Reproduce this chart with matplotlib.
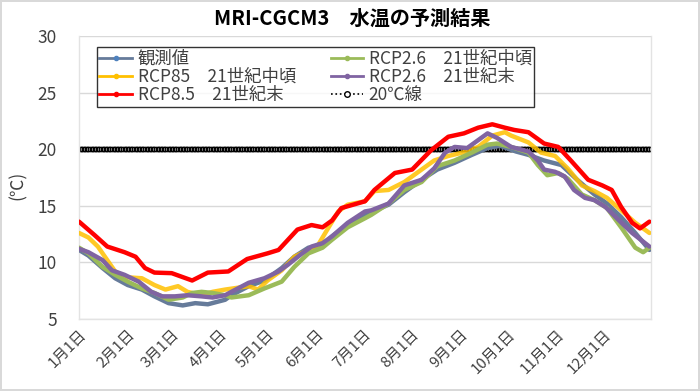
import numpy as np
import matplotlib
matplotlib.use("Agg")
import matplotlib.pyplot as plt
from matplotlib.lines import Line2D

plt.rcParams['font.family'] = ['Noto Sans CJK JP', 'DejaVu Sans']

month_days = [0, 31, 59, 90, 120, 151, 181, 212, 243, 273, 304, 334]
month_labels = ["1月1日", "2月1日", "3月1日", "4月1日", "5月1日", "6月1日",
                "7月1日", "8月1日", "9月1日", "10月1日", "11月1日", "12月1日"]

obs_days = [0, 6, 15, 23, 31, 40, 48, 57, 66, 74, 82, 93, 97, 108, 118, 129, 137, 146, 155, 161,
            171, 182, 197, 207, 218, 228, 239, 250, 260, 268, 278, 286, 296, 307, 317, 328, 336,
            345, 354, 363]
obs_vals = [11.1, 10.6, 9.5, 8.6, 8.0, 7.6, 7.0, 6.4, 6.2, 6.4, 6.3, 6.7, 7.1, 7.9, 8.4, 9.5, 10.5,
            11.3, 11.5, 12.3, 13.3, 14.2, 15.1, 16.2, 17.3, 18.2, 18.8, 19.5, 20.1, 20.3, 19.8,
            19.5, 19.0, 18.6, 17.3, 16.0, 15.2, 14.0, 12.6, 11.1]

r85m_days = [0, 6, 12, 18, 23, 29, 40, 48, 55, 63, 69, 78, 85, 93, 108, 114, 120, 129, 137, 146,
             152, 158, 165, 171, 182, 188, 197, 207, 218, 226, 235, 244, 254, 263, 271, 275, 286,
             294, 303, 311, 320, 328, 336, 345, 354, 363]
r85m_vals = [12.6, 12.2, 11.4, 10.2, 9.2, 8.7, 8.6, 8.0, 7.6, 7.9, 7.4, 7.1, 7.4, 7.6, 7.9, 7.6,
             8.4, 9.3, 10.5, 11.1, 11.5, 12.9, 14.5, 15.1, 15.4, 16.3, 16.4, 17.1, 18.2, 19.0,
             19.4, 19.7, 20.2, 21.2, 21.5, 21.2, 20.6, 19.7, 19.4, 18.3, 16.8, 16.3, 15.7, 14.6,
             13.5, 12.6]

r85e_days = [0, 10, 18, 29, 36, 42, 48, 59, 72, 82, 95, 107, 120, 127, 139, 148, 155, 161, 167,
             182, 188, 201, 212, 224, 235, 245, 254, 263, 271, 277, 286, 296, 305, 313, 324, 333,
             339, 345, 352, 357, 363]
r85e_vals = [13.6, 12.4, 11.4, 10.9, 10.5, 9.5, 9.1, 9.05, 8.4, 9.1, 9.2, 10.3, 10.8, 11.1, 12.9,
             13.3, 13.1, 13.7, 14.8, 15.4, 16.4, 17.9, 18.2, 19.9, 21.1, 21.4, 21.9, 22.2, 21.9,
             21.7, 21.5, 20.5, 20.2, 19.0, 17.3, 16.8, 16.4, 14.9, 13.5, 13.0, 13.6]

r26m_days = [0, 6, 15, 23, 31, 40, 48, 57, 66, 72, 78, 85, 93, 97, 108, 118, 129, 137, 146, 155,
             161, 171, 182, 186, 197, 207, 218, 228, 239, 250, 260, 266, 275, 286, 292, 298, 305,
             311, 320, 328, 336, 345, 354, 359, 363]
r26m_vals = [11.3, 10.8, 9.6, 8.9, 8.3, 7.7, 7.3, 6.7, 6.9, 7.3, 7.4, 7.3, 7.1, 6.9, 7.1, 7.7,
             8.3, 9.6, 10.8, 11.3, 12.0, 13.1, 13.9, 14.2, 15.2, 16.4, 17.1, 18.5, 19.0, 19.7,
             20.4, 20.5, 20.2, 19.7, 18.6, 17.7, 17.9, 17.4, 16.0, 15.5, 14.8, 13.1, 11.3, 10.9,
             11.3]

r26e_days = [0, 6, 15, 21, 29, 38, 46, 53, 61, 69, 78, 85, 93, 97, 108, 118, 127, 133, 142, 148,
             155, 161, 171, 182, 186, 197, 207, 218, 226, 233, 239, 247, 254, 260, 266, 275, 286,
             292, 296, 303, 309, 315, 322, 328, 335, 343, 352, 363]
r26e_vals = [11.2, 10.9, 10.2, 9.3, 8.9, 8.3, 7.4, 7.0, 7.0, 7.1, 7.0, 6.9, 7.1, 7.4, 8.2, 8.6,
             9.2, 9.8, 10.8, 11.4, 11.7, 12.3, 13.5, 14.5, 14.6, 15.2, 16.8, 17.3, 18.3, 19.7,
             20.2, 20.1, 20.8, 21.4, 21.0, 20.2, 19.8, 19.0, 18.2, 18.0, 17.6, 16.4, 15.7, 15.5,
             14.9, 13.8, 12.6, 11.4]

line20_days = np.arange(0, 365)
line20_vals = np.full(365, 20.0)

names = ["観測値", "RCP85　21世紀中頃", "RCP8.5　21世紀末",
         "RCP2.6　21世紀中頃", "RCP2.6　21世紀末", "20℃線"]
colors = ["#667B9A", "#FFC000", "#FF0000", "#9BBB59", "#8064A2", "#000000"]

fig = plt.figure(figsize=(7.0, 3.91), dpi=100)
fig.patch.set_facecolor("white")
fig.patch.set_edgecolor("#D9D9D9")
fig.patch.set_linewidth(1.5)

ax = fig.add_axes([79 / 700, 1 - 319 / 391, 572 / 700, 283 / 391])

series = [(obs_days, obs_vals), (r85m_days, r85m_vals), (r85e_days, r85e_vals),
          (r26m_days, r26m_vals), (r26e_days, r26e_vals)]

ax.plot(line20_days, line20_vals, linestyle="none", marker="o", markersize=3.2,
        markerfacecolor="#bbbbbb", markeredgecolor="#000000", markeredgewidth=0.9, zorder=2)

for i, (d, v) in enumerate(series):
    alpha = 0.85 if i == 1 else 1.0
    ax.plot(d, v, color=colors[i], linewidth=3.2, solid_capstyle="round",
            solid_joinstyle="round", alpha=alpha, zorder=3 + i)

ax.set_xlim(0, 364)
ax.set_ylim(5, 30)
ax.set_yticks([5, 10, 15, 20, 25, 30])
ax.set_xticks(month_days)
ax.set_xticklabels(month_labels, rotation=45, ha="right", rotation_mode="anchor",
                   fontsize=10.8, color="#404040")
ax.tick_params(axis="y", labelsize=12.5, labelcolor="#404040", length=0, pad=16)
ax.tick_params(axis="x", length=0, pad=6)
ax.grid(axis="y", color="#D9D9D9", linewidth=1.0, zorder=0)
ax.set_axisbelow(True)
ax.spines["top"].set_visible(False)
for s in ["left", "right", "bottom"]:
    ax.spines[s].set_color("#E3E3E3")
    ax.spines[s].set_linewidth(1.0)

fig.text(18 / 700, 1 - 185 / 391, "(℃)", rotation=90, ha="center", va="center",
         fontsize=12.5, color="#404040")
fig.text(352 / 700, 1 - 18 / 391, "MRI-CGCM3　水温の予測結果", ha="center", va="center",
         fontsize=14.5, fontweight="bold", color="#000000")

handles = []
for i in range(5):
    handles.append(Line2D([0], [0], color=colors[i], linewidth=2, marker="o", markersize=3,
                          markerfacecolor=colors[i] if i != 0 else "#4F81BD",
                          markeredgecolor=colors[i] if i != 0 else "#4F81BD"))
handles.append(Line2D([0], [0], color="black", linewidth=1.2, linestyle=":", marker="o",
                      markersize=4, markerfacecolor="white", markeredgecolor="black"))
leg = ax.legend(handles, names, loc="upper left", bbox_to_anchor=(0.031, 0.96), ncol=2,
                fontsize=12.5, frameon=True, fancybox=False, edgecolor="black",
                handlelength=1.9, handletextpad=0.3, columnspacing=2.0,
                labelspacing=0.0, borderpad=0.15, borderaxespad=0.0)
leg.get_frame().set_linewidth(1.0)
for t in leg.get_texts():
    t.set_color("#404040")
leg.set_zorder(20)

fig.savefig("out.png", dpi=100)
